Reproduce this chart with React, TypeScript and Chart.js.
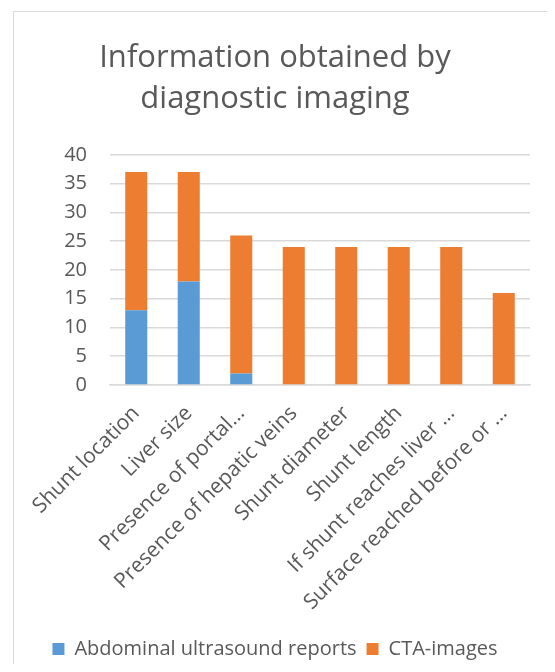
import React, { useEffect, useRef } from 'react';
import Chart from 'chart.js/auto';

const categories = [
  'Shunt location',
  'Liver size',
  'Presence of portal…',
  'Presence of hepatic veins',
  'Shunt diameter',
  'Shunt length',
  'If shunt reaches liver …',
  'Surface reached before or …',
];
const ultrasoundReports = [13, 18, 2, 0, 0, 0, 0, 0];
const ctaImages = [24, 19, 24, 24, 24, 24, 24, 16];
const yTicks = [0, 5, 10, 15, 20, 25, 30, 35, 40];

const FONT = '"Open Sans", sans-serif';
const TEXT = '#595959';

const App: React.FC = () => {
  const chartRef = useRef<HTMLCanvasElement>(null);

  useEffect(() => {
    if (!chartRef.current) return;
    const chart = new Chart(chartRef.current, {
      type: 'bar',
      data: {
        labels: categories,
        datasets: [
          {
            label: 'Abdominal ultrasound reports',
            data: ultrasoundReports,
            backgroundColor: '#5B9BD5',
            barPercentage: 0.42,
            categoryPercentage: 1,
          },
          {
            label: 'CTA-images',
            data: ctaImages,
            backgroundColor: '#ED7D31',
            barPercentage: 0.42,
            categoryPercentage: 1,
          },
        ],
      },
      options: {
        animation: false,
        responsive: false,
        layout: { padding: { top: 38, left: 20, right: 25, bottom: 3 } },
        plugins: {
          title: {
            display: true,
            text: ['Information obtained by', 'diagnostic imaging'],
            color: TEXT,
            font: { family: FONT, size: 31, weight: 'normal', lineHeight: 1.32 },
            padding: { top: 0, bottom: 35 },
          },
          legend: {
            position: 'bottom',
            labels: {
              color: TEXT,
              font: { family: FONT, size: 20 },
              boxWidth: 12,
              boxHeight: 12,
              padding: 10,
            },
          },
          tooltip: { enabled: false },
        },
        scales: {
          x: {
            stacked: true,
            grid: { display: false, drawTicks: false },
            border: { color: '#d9d9d9', width: 1.5 },
            ticks: {
              color: TEXT,
              font: { family: FONT, size: 21 },
              minRotation: 45,
              maxRotation: 45,
              autoSkip: false,
              padding: 16,
            },
            afterFit: (scale: any) => {
              scale.height = 244;
            },
          },
          y: {
            stacked: true,
            min: 0,
            max: 40,
            afterBuildTicks: (scale: any) => {
              scale.ticks = yTicks.map((v) => ({ value: v }));
            },
            grid: { color: '#d9d9d9', lineWidth: 1.5, drawTicks: false },
            border: { display: false },
            ticks: {
              color: TEXT,
              font: { family: FONT, size: 20 },
              padding: 23,
            },
            afterFit: (scale: any) => {
              scale.width = 90;
            },
          },
        },
      },
    });
    return () => chart.destroy();
  }, []);

  return (
    <div style={{ position: 'relative', width: 555, height: 672, margin: -8, overflow: 'hidden', background: '#fff' }}>
      <div
        style={{
          position: 'absolute',
          left: 13,
          top: 11,
          width: 600,
          height: 700,
          border: '1px solid #d9d9d9',
        }}
      />
      <canvas ref={chartRef} width={555} height={672} style={{ position: 'absolute', left: 0, top: 0 }} />
    </div>
  );
};

export default App;
